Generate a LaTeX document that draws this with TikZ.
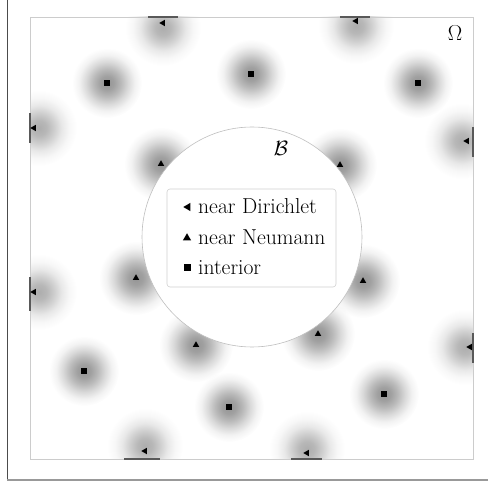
\documentclass[tikz,border=0pt]{standalone}
\usetikzlibrary{shapes.geometric}
\pgfdeclareradialshading{blobshade}{\pgfpointorigin}{color(0bp)=(black!42); color(5bp)=(black!37); color(10bp)=(black!27); color(15bp)=(black!15); color(20bp)=(black!5); color(25bp)=(white); color(50bp)=(white)}
\pgfdeclareradialshading{dblobshade}{\pgfpointorigin}{color(0bp)=(black!32); color(5bp)=(black!28); color(10bp)=(black!19); color(15bp)=(black!9); color(20bp)=(black!3); color(25bp)=(white); color(50bp)=(white)}
\tikzset{
  blob/.style={shading=blobshade, blend mode=multiply},
  dblob/.style={shading=dblobshade, blend mode=multiply},
  sqm/.style={rectangle, fill=black, minimum size=5.5pt, inner sep=0pt},
  upm/.style={regular polygon, regular polygon sides=3, fill=black, minimum size=7.5pt, inner sep=0pt},
  leftm/.style={regular polygon, regular polygon sides=3, shape border rotate=90, fill=black, minimum size=7.5pt, inner sep=0pt},
  dseg/.style={draw=black!65, line width=2pt},
  bigfont/.style={font=\fontsize{21.6}{26}\selectfont},
  legtext/.style={anchor=base west, inner sep=0pt, bigfont},
}
\begin{document}
\begin{tikzpicture}[x=1pt, y=-1pt]
\useasboundingbox (0,0) rectangle (488,484);
% outer frame
\draw[black!70, line width=1pt] (7,0) -- (7,480);
\draw[black!40, line width=1.6pt] (7,480) -- (488,480);
% blobs
\begin{scope}
\clip (30,17) rectangle (473,459);
% interior
\foreach \p in {(107,83),(251,74),(418,83),(84,371),(229,407),(384,394)}
  \shade[blob] \p circle (35pt);
% Neumann
\foreach \p in {(161,164),(340,165),(136,278),(196,345),(363,281),(318,334)}
  \shade[blob] \p circle (37pt);
% Dirichlet
\foreach \p in {(163,28),(356,26),(39,128),(39,292),(462,141),(465,347),(145,446),(307,449)}
  \shade[dblob] \p circle (38pt);
\end{scope}
% domain
\draw[black!20, line width=0.8pt] (30,17) rectangle (473,459);
% Dirichlet boundary segments
\draw[dseg] (148,17) -- (178,17);
\draw[dseg] (340,17) -- (370,17);
\draw[dseg] (30,113) -- (30,143);
\draw[dseg] (30,277) -- (30,311);
\draw[dseg] (473,127) -- (473,157);
\draw[dseg] (473,333) -- (473,363);
\draw[dseg] (124,459) -- (160,459);
\draw[dseg] (291,459) -- (322,459);
% ball
\draw[black!25, fill=white, line width=0.6pt] (252,237) circle (110pt);
\node[bigfont, inner sep=0pt] (B) at (281,148) {$\mathcal{B}$};
\node[bigfont, inner sep=0pt] (Om) at (455,33) {Ω};
% markers
\node[sqm] (i1) at (107,83) {};
\node[sqm] (i2) at (251,74) {};
\node[sqm] (i3) at (418,83) {};
\node[sqm] (i4) at (84,371) {};
\node[sqm] (i5) at (229,407) {};
\node[sqm] (i6) at (384,394) {};
\node[upm] (n1) at (161,164) {};
\node[upm] (n2) at (340,165) {};
\node[upm] (n3) at (136,278) {};
\node[upm] (n4) at (196,345) {};
\node[upm] (n5) at (363,281) {};
\node[upm] (n6) at (318,334) {};
\node[leftm] (d1) at (163,23) {};
\node[leftm] (d2) at (356,21) {};
\node[leftm] (d3) at (34,128) {};
\node[leftm] (d4) at (34,292) {};
\node[leftm] (d5) at (467,141) {};
\node[leftm] (d6) at (470,347) {};
\node[leftm] (d7) at (145,451) {};
\node[leftm] (d8) at (307,453) {};
% legend
\draw[black!18, fill=white, rounded corners=3pt, line width=0.6pt] (167,189) rectangle (336,287);
\node[leftm, minimum size=9.5pt] (l1) at (188,207) {};
\node[upm, minimum size=9.5pt] (l2) at (187,238) {};
\node[sqm, minimum size=7pt] (l3) at (187,268) {};
\node[legtext] (t1) at (198,213.5) {near Dirichlet};
\node[legtext] (t2) at (198,244.5) {near Neumann};
\node[legtext] (t3) at (198,274.5) {interior};
\end{tikzpicture}
\end{document}
